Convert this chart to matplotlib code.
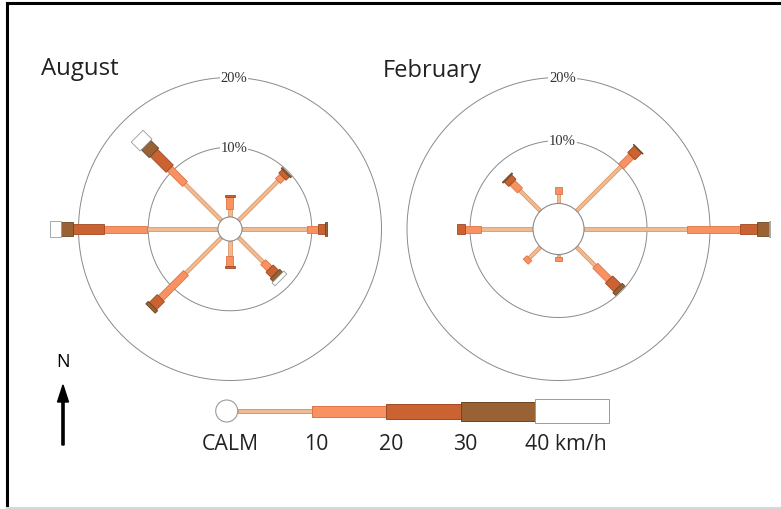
import matplotlib
matplotlib.use("Agg")
import matplotlib.pyplot as plt
import numpy as np
from matplotlib.patches import Polygon, Circle, Rectangle, FancyArrow
from matplotlib.lines import Line2D

# ---------------- data ----------------
directions = ["N", "NE", "E", "SE", "S", "SW", "W", "NW"]
bearings = [0, 45, 90, 135, 180, 225, 270, 315]
speed_bins = ["0-10", "10-20", "20-30", "30-40", ">40"]

# August: frequency (%) per direction for each speed bin
aug_calm = 1.73
aug_0_10 = [1.15, 8.0, 9.3, 5.0, 2.1, 7.2, 10.2, 7.4]
aug_10_20 = [1.7, 0.9, 1.6, 1.3, 1.5, 5.1, 6.1, 3.1]
aug_20_30 = [0.3, 0.7, 1.0, 1.1, 0.3, 1.6, 4.5, 3.2]
aug_30_40 = [0.0, 0.2, 0.3, 0.6, 0.0, 0.5, 1.7, 1.6]
aug_40p = [0.0, 0.0, 0.0, 0.6, 0.0, 0.0, 1.6, 1.8]

# February
feb_calm = 4.05
feb_0_10 = [1.5, 10.0, 16.4, 4.2, 0.45, 2.5, 8.25, 4.6]
feb_10_20 = [1.1, 2.3, 8.4, 3.1, 0.6, 0.8, 2.5, 1.7]
feb_20_30 = [0.0, 1.5, 2.7, 1.9, 0.0, 0.0, 1.3, 1.0]
feb_30_40 = [0.0, 0.1, 1.8, 0.6, 0.0, 0.0, 0.0, 0.2]
feb_40p = [0.0, 0.0, 0.2, 0.0, 0.0, 0.0, 0.0, 0.0]

ring_levels = [10, 20]
ring_labels = ["10%", "20%"]

legend_edges = [0, 10, 20, 30, 40, 50]
legend_labels = ["10", "20", "30", "40 km/h"]

# ---------------- style ----------------
W, H, DPI = 781, 510, 100
fills = ["#F2BA90", "#F99262", "#CB6232", "#986234", "#FFFFFF"]
edges = ["#D8986A", "#DE7445", "#A04A22", "#6E4522", "#9A9A9A"]
rose_px_w = [3.5, 7.0, 10.3, 13.3, 16.7]
legend_px_h = [4.0, 11.0, 15.0, 19.0, 24.0]
R20_PX = 151.5
L = 200.0

plt.rcParams['font.family'] = ['Open Sans', 'DejaVu Sans']

fig = plt.figure(figsize=(W / DPI, H / DPI), dpi=DPI)
fig.patch.set_facecolor("white")

# overlay axes in pixel coordinates (frame, titles, north arrow)
ov = fig.add_axes([0, 0, 1, 1])
ov.set_xlim(0, W)
ov.set_ylim(H, 0)
ov.axis("off")
ov.add_line(Line2D([7, W], [4, 4], color="black", lw=2.2))
ov.add_line(Line2D([7, 7], [4, 508], color="black", lw=2.2))
ov.add_line(Line2D([7, W], [508.5, 508.5], color="#d8d8d8", lw=1.5))
ov.text(41, 75, "August", fontsize=17.3, ha="left", va="baseline", color="#222222")
ov.text(383, 76.7, "February", fontsize=17, ha="left", va="baseline", color="#222222")
ov.text(63, 362, "N", fontsize=13, ha="center", va="center", color="black")
ov.add_patch(FancyArrow(63, 446, 0, -60, width=2.2, head_width=11, head_length=17,
                        length_includes_head=True, color="black"))


def draw_rose(cx, cy, calm, bins):
    ax = fig.add_axes([(cx - L) / W, (H - cy - L) / H, 2 * L / W, 2 * L / H])
    lim = (calm + 20) * L / R20_PX
    ax.set_xlim(-lim, lim)
    ax.set_ylim(-lim, lim)
    ax.axis("off")
    ax.patch.set_alpha(0)
    unit = lim / L  # data units per pixel
    # rings
    t = np.linspace(0, 2 * np.pi, 400)
    for lev, lab in zip(ring_levels, ring_labels):
        r = calm + lev
        ax.plot(r * np.cos(t), r * np.sin(t), color="#8a8a8a", lw=0.7, zorder=1)
        ax.text(4 * unit, r, lab, ha="center", va="center", fontsize=10.5,
                family=["Liberation Serif", "DejaVu Serif"], color="#333333", zorder=2,
                bbox=dict(facecolor="white", edgecolor="none", pad=0.5))
    # bars
    for i, b in enumerate(bearings):
        th = np.deg2rad(90 - b)
        u = np.array([np.cos(th), np.sin(th)])
        n = np.array([-np.sin(th), np.cos(th)])
        r0 = calm
        for k in range(len(speed_bins)):
            v = bins[k][i]
            if v <= 0:
                continue
            r1 = r0 + v
            hw = rose_px_w[k] * unit / 2
            pts = [r0 * u + hw * n, r1 * u + hw * n, r1 * u - hw * n, r0 * u - hw * n]
            ax.add_patch(Polygon(pts, closed=True, facecolor=fills[k], edgecolor=edges[k],
                                 lw=0.6, zorder=3 + k, clip_on=False))
            r0 = r1
    ax.add_patch(Circle((0, 0), calm, facecolor="white", edgecolor="#8a8a8a", lw=0.8,
                        zorder=20))
    return ax


draw_rose(230, 230, aug_calm, [aug_0_10, aug_10_20, aug_20_30, aug_30_40, aug_40p])
draw_rose(558.5, 230, feb_calm, [feb_0_10, feb_10_20, feb_20_30, feb_30_40, feb_40p])

# legend
s = 7.43  # px per km/h
x0 = 237.7
lx0, lx1, ly0, ly1 = 190, 640, 385, 470
lg = fig.add_axes([lx0 / W, (H - ly1) / H, (lx1 - lx0) / W, (ly1 - ly0) / H])
lg.set_xlim((lx0 - x0) / s, (lx1 - x0) / s)
lg.set_ylim(-(ly1 - 412) / s, (412 - ly0) / s)
lg.axis("off")
lg.patch.set_alpha(0)
for k in range(len(speed_bins)):
    h = legend_px_h[k] / s
    lg.add_patch(Rectangle((legend_edges[k], -h / 2), legend_edges[k + 1] - legend_edges[k], h,
                           facecolor=fills[k], edgecolor=edges[k], lw=0.7, zorder=3))
cr = 11 / s
lg.add_patch(Circle((-cr, 0), cr, facecolor="white", edgecolor="#9a9a9a", lw=0.8, zorder=4))
ylab = -33 / s
lg.text(-1.0, ylab, "CALM", ha="center", va="center", fontsize=15.3, color="#222222")
for e, lab in zip(legend_edges[1:5], legend_labels):
    if "km" in lab:
        lg.text(e - 1.3, ylab, lab, ha="left", va="center", fontsize=15.3, color="#222222")
    else:
        lg.text(e + 0.6, ylab, lab, ha="center", va="center", fontsize=15.3, color="#222222")

fig.savefig("out.png", dpi=DPI)
